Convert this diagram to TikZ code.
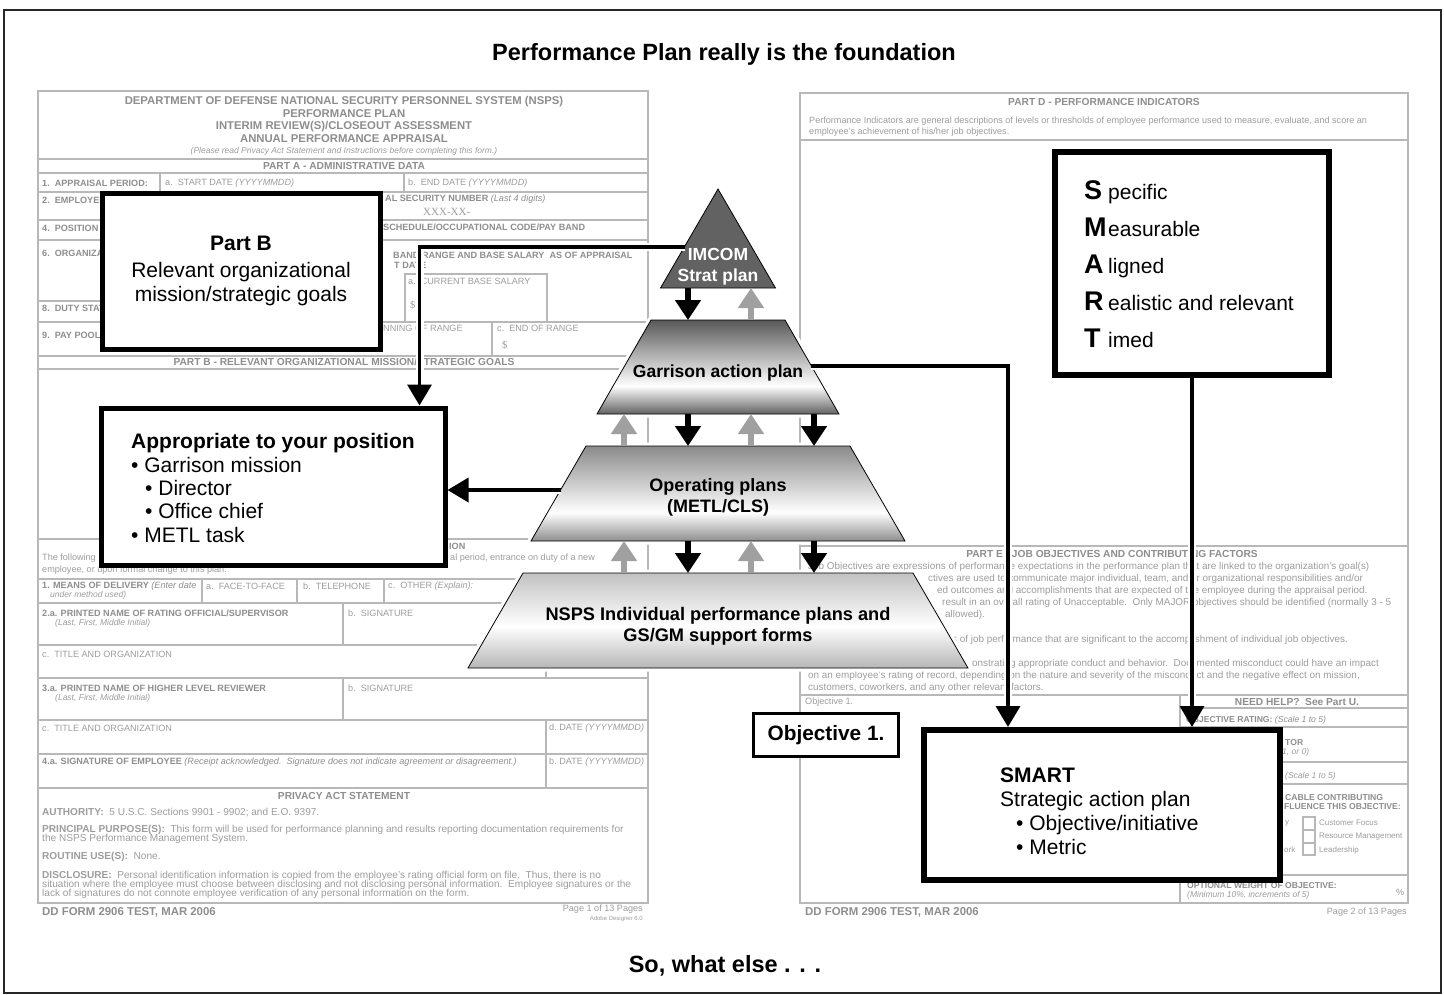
\documentclass[tikz,border=0pt]{standalone}
\usepackage{fontspec}
\setmainfont{Liberation Sans}
\newfontfamily\seriffam{Liberation Serif}
\usetikzlibrary{arrows.meta,calc}

\definecolor{labgrey}{HTML}{8E8E8E}
\definecolor{txtgrey}{HTML}{9D9D9D}
\definecolor{linegrey}{HTML}{B8B8B8}
\definecolor{upgrey}{HTML}{A0A0A0}
\definecolor{trigrey}{HTML}{626262}
\definecolor{aTop}{HTML}{585858}
\definecolor{aBot}{HTML}{626262}
\definecolor{bTop}{HTML}{8A8A8A}
\definecolor{bBot}{HTML}{8E8E8E}
\definecolor{cTop}{HTML}{C2C2C2}
\definecolor{cBot}{HTML}{B6B6B6}

\pgfdeclareverticalshading{lvlA}{100bp}{color(0bp)=(aBot); color(25bp)=(aBot); color(40bp)=(white); color(75bp)=(aTop); color(100bp)=(aTop)}
\pgfdeclareverticalshading{lvlB}{100bp}{color(0bp)=(bBot); color(25bp)=(bBot); color(40bp)=(white); color(75bp)=(bTop); color(100bp)=(bTop)}
\pgfdeclareverticalshading{lvlC}{100bp}{color(0bp)=(cBot); color(25bp)=(cBot); color(47bp)=(white); color(75bp)=(cTop); color(100bp)=(cTop)}

\newcommand\smartlet[1]{\makebox[24pt][l]{\fontsize{27}{27}\selectfont\bfseries #1}}

\begin{document}
\begin{tikzpicture}[x=1pt,y=-1pt,
  fhead/.style={inner sep=0pt,text=labgrey,font=\fontsize{11.3}{12}\selectfont\bfseries},
  fpart/.style={inner sep=0pt,text=labgrey,font=\fontsize{10.2}{11}\selectfont\bfseries},
  flab/.style={anchor=west,inner sep=0pt,text=labgrey,font=\fontsize{9.1}{10}\selectfont\bfseries},
  fitl/.style={anchor=west,inner sep=0pt,text=txtgrey,font=\fontsize{8.5}{9}\selectfont\itshape},
  ftx/.style={anchor=west,inner sep=0pt,text=txtgrey,font=\fontsize{9.1}{10}\selectfont},
  fsm/.style={anchor=west,inner sep=0pt,text=txtgrey,font=\fontsize{8}{9}\selectfont},
  fsmb/.style={anchor=west,inner sep=0pt,text=labgrey,font=\fontsize{8.6}{9}\selectfont\bfseries},
  fpriv/.style={anchor=west,inner sep=0pt,text=txtgrey,font=\fontsize{10.1}{10}\selectfont},
  fpe/.style={anchor=west,inner sep=0pt,text=txtgrey,font=\fontsize{9.9}{10}\selectfont},
  fline/.style={draw=linegrey,line width=1.1pt},
  fborder/.style={draw=linegrey,line width=1.8pt},
  ttl/.style={inner sep=0pt,font=\fontsize{23.5}{26}\selectfont\bfseries},
  bigbox/.style={draw=black,fill=white,line width=5pt,inner sep=0pt},
  pyrtext/.style={inner sep=0pt,align=center,font=\fontsize{17.5}{21}\selectfont\bfseries},
  pyrlayer/.style={draw=black,line width=0.8pt},
  pyrhalo/.style={draw=white,line width=7pt,line join=round},
  blkarrow/.style={draw=black,line width=6.5pt,-{Triangle[width=25pt,length=20pt]}},
  gryarrow/.style={draw=upgrey,line width=5.5pt,-{Triangle[width=25pt,length=20pt]}},
  conn/.style={draw=black,line width=3.6pt,-{Triangle[width=24pt,length=21pt]}},
  halo/.style={draw=white,line width=8pt,shorten >=16pt}
]
\useasboundingbox (0,0) rectangle (1444,994);
\fill[white] (0,0) rectangle (1444,994);
\draw[line width=1.6pt,draw=black!85] (4,10) rectangle (1441,993);

% titles
\node[ttl] (title) at (724,54) {Performance Plan really is the foundation};
\node[ttl] (footer) at (725,966) {So, what else . . .};

% ================= LEFT FORM =================
\draw[fborder] (38,91) rectangle (648,903);
\foreach \yy in {159,173,192,220,240,322,356,369,539,579,603,645,678,720,754,788}
  \draw[fline] (38,\yy) -- (648,\yy);
\draw[fline] (38,301) -- (100,301);
\draw[fline] (160,173) -- (160,192);
\draw[fline] (404,173) -- (404,192);
\draw[fline] (405,274) rectangle (547,322);
\draw[fline] (492,322) -- (492,356);
\draw[fline] (202,579) -- (202,603);
\draw[fline] (297,579) -- (297,603);
\draw[fline] (384,579) -- (384,603);
\draw[fline] (343,603) -- (343,645);
\draw[fline] (343,678) -- (343,720);
\draw[fline] (546,645) -- (546,678);
\draw[fline] (546,720) -- (546,788);

\node[fhead] (lh1) at (344,102) {DEPARTMENT OF DEFENSE NATIONAL SECURITY PERSONNEL SYSTEM (NSPS)};
\node[fhead] (lh2) at (344,114) {PERFORMANCE PLAN};
\node[fhead] (lh3) at (344,127) {INTERIM REVIEW(S)/CLOSEOUT ASSESSMENT};
\node[fhead] (lh4) at (344,139) {ANNUAL PERFORMANCE APPRAISAL};
\node[fitl,anchor=center] (lh5) at (344,151) {(Please read Privacy Act Statement and Instructions before completing this form.)};
\node[fpart] (lpa) at (344,166) {PART A - ADMINISTRATIVE DATA};

\node[flab] (l1) at (42,183) {1.\ \ APPRAISAL PERIOD:};
\node[ftx] (l1a) at (165,183) {a.\ \ START DATE \textit{(YYYYMMDD)}};
\node[ftx] (l1b) at (408,183) {b.\ \ END DATE \textit{(YYYYMMDD)}};
\node[flab] (l2) at (42,200) {2.\ \ EMPLOYEE NAME};
\node[flab] (l3) at (385,199) {AL SECURITY NUMBER \textit{\mdseries(Last 4 digits)}};
\node[anchor=west,inner sep=0pt,text=txtgrey,font=\seriffam\fontsize{11}{12}\selectfont] (l3x) at (423,212) {XXX-XX-};
\node[flab] (l4) at (42,228) {4.\ \ POSITION TITLE};
\node[flab] (l5) at (383,227) {SCHEDULE/OCCUPATIONAL CODE/PAY BAND};
\node[flab] (l6) at (42,253) {6.\ \ ORGANIZATION};
\node[flab] (l7) at (393,255) {BAND RANGE AND BASE SALARY\ \ AS OF APPRAISAL};
\node[flab] (l7b) at (394,265) {T DATE};
\node[ftx] (l7a) at (408,281) {a.\ \ CURRENT BASE SALARY};
\node[ftx,font=\seriffam\fontsize{10.5}{11}\selectfont] (l7d) at (410,305) {\$};
\node[flab] (l8) at (42,308) {8.\ \ DUTY STATION};
\node[flab] (l9) at (42,335) {9.\ \ PAY POOL};
\node[ftx] (l9b) at (383,328) {NNING OF RANGE};
\node[ftx] (l9c) at (497,328) {c.\ \ END OF RANGE};
\node[ftx,font=\seriffam\fontsize{10.5}{11}\selectfont] (l9d) at (502,345) {\$};
\node[fpart] (lpb) at (344,362) {PART B - RELEVANT ORGANIZATIONAL MISSION/STRATEGIC GOALS};

\node[flab] (lc1) at (449,546) {ION};
\node[ftx] (lc2) at (42,558) {The following};
\node[ftx] (lc3) at (450,558) {al period, entrance on duty of a new};
\node[ftx] (lc4) at (42,570) {employee, or upon formal change to this plan.};
\node[flab] (lm1) at (42,586) {1. MEANS OF DELIVERY \textit{\mdseries(Enter date}};
\node[fitl] (lm2) at (50,595) {under method used)};
\node[ftx] (lm3) at (206,586) {a.\ \ FACE-TO-FACE};
\node[ftx] (lm4) at (303,586) {b.\ \ TELEPHONE};
\node[ftx] (lm5) at (388,586) {c.\ \ OTHER \textit{(Explain):}};
\node[flab] (lr1) at (42,613) {2.a. PRINTED NAME OF RATING OFFICIAL/SUPERVISOR};
\node[fitl] (lr2) at (55,623) {(Last, First, Middle Initial)};
\node[ftx] (lr3) at (348,613) {b.\ \ SIGNATURE};
\node[ftx] (lr4) at (42,654) {c.\ \ TITLE AND ORGANIZATION};
\node[flab] (lr5) at (42,688) {3.a. PRINTED NAME OF HIGHER LEVEL REVIEWER};
\node[fitl] (lr6) at (55,698) {(Last, First, Middle Initial)};
\node[ftx] (lr7) at (348,688) {b.\ \ SIGNATURE};
\node[ftx] (lr8) at (42,728) {c.\ \ TITLE AND ORGANIZATION};
\node[ftx] (lr9) at (549,728) {d.\ DATE \textit{(YYYYMMDD)}};
\node[flab] (lr10) at (42,762) {4.a. SIGNATURE OF EMPLOYEE \textit{\mdseries(Receipt acknowledged.\ \ Signature does not indicate agreement or disagreement.)}};
\node[ftx] (lr11) at (549,762) {b.\ DATE \textit{(YYYYMMDD)}};
\node[fpart] (lps) at (344,796) {PRIVACY ACT STATEMENT};
\node[fpriv] (lp1) at (42,812) {\textbf{AUTHORITY:}\ \ 5 U.S.C. Sections 9901 - 9902; and E.O. 9397.};
\node[fpriv] (lp2) at (42,830) {\textbf{PRINCIPAL PURPOSE(S):}\ \ This form will be used for performance planning and results reporting documentation requirements for};
\node[fpriv] (lp3) at (42,839) {the NSPS Performance Management System.};
\node[fpriv] (lp4) at (42,857) {\textbf{ROUTINE USE(S):}\ \ None.};
\node[fpriv] (lp5) at (42,876) {\textbf{DISCLOSURE:}\ \ Personal identification information is copied from the employee's rating official form on file.\ \ Thus, there is no};
\node[fpriv] (lp6) at (42,885) {situation where the employee must choose between disclosing and not disclosing personal information.\ \ Employee signatures or the};
\node[fpriv] (lp7) at (42,894) {lack of signatures do not connote employee verification of any personal information on the form.};
\node[flab,font=\fontsize{11.4}{12}\selectfont\bfseries] (lf1) at (42,912) {DD FORM 2906 TEST, MAR 2006};
\node[ftx,anchor=east] (lf2) at (643,909) {Page 1 of 13 Pages};
\node[ftx,anchor=east,font=\fontsize{6}{6}\selectfont] (lf3) at (643,919) {Adobe Designer 6.0};

% ================= RIGHT FORM =================
\draw[fborder] (800,93) rectangle (1408,903);
\foreach \yy in {140,546,695}
  \draw[fline] (800,\yy) -- (1408,\yy);
\draw[fline] (1180,695) -- (1180,903);
\foreach \yy in {708,727,762,784,875}
  \draw[fline] (1180,\yy) -- (1408,\yy);
\draw[fline] (1303,817) rectangle (1315,830);
\draw[fline] (1303,830) rectangle (1315,843);
\draw[fline] (1303,843) rectangle (1315,855);

\node[fpart] (rpd) at (1104,102) {PART D - PERFORMANCE INDICATORS};
\node[ftx] (rd1) at (809,121) {Performance Indicators are general descriptions of levels or thresholds of employee performance used to measure, evaluate, and score an};
\node[ftx] (rd2) at (809,132) {employee's achievement of his/her job objectives.};
\node[fpart] (rpe) at (1112,554) {PART E - JOB OBJECTIVES AND CONTRIBUTING FACTORS};
\node[fpe] (re1) at (808,567) {Job Objectives are expressions of performance expectations in the performance plan that are linked to the organization's goal(s)};
\node[fpe] (re2) at (928,579) {ctives are used to communicate major individual, team, and/or organizational responsibilities and/or};
\node[fpe] (re3) at (937,591) {ed outcomes and accomplishments that are expected of the employee during the appraisal period.};
\node[fpe] (re4) at (942,603) {result in an overall rating of Unacceptable.\ \ Only MAJOR objectives should be identified (normally 3 - 5};
\node[fpe] (re5) at (945,615) {allowed).};
\node[fpe] (re6) at (952,640) {s of job performance that are significant to the accomplishment of individual job objectives.};
\node[fpe] (re7) at (972,664) {onstrating appropriate conduct and behavior.\ \ Documented misconduct could have an impact};
\node[fpe] (re8) at (808,676) {on an employee's rating of record, depending on the nature and severity of the misconduct and the negative effect on mission,};
\node[fpe] (re9) at (808,688) {customers, coworkers, and any other relevant factors.};
\node[ftx] (ro1) at (805,702) {Objective 1.};
\node[fpart] (rnh) at (1297,702) {NEED HELP?\ \ See Part U.};
\node[fsmb] (rc1) at (1186,720) {OBJECTIVE RATING: \textit{\mdseries(Scale 1 to 5)}};
\node[fsmb] (rc2) at (1285,743) {TOR};
\node[fitl] (rc3) at (1282,752) {1, or 0)};
\node[fitl] (rc4) at (1285,776) {(Scale 1 to 5)};
\node[fsmb] (rc5) at (1285,798) {CABLE CONTRIBUTING};
\node[fsmb] (rc6) at (1284,807) {FLUENCE THIS OBJECTIVE:};
\node[fsm] (rc7) at (1285,823) {y};
\node[fsm] (rc8) at (1319,823) {Customer Focus};
\node[fsm] (rc9) at (1319,837) {Resource Management};
\node[fsm] (rc10) at (1284,850) {ork};
\node[fsm] (rc11) at (1319,850) {Leadership};
\node[fsmb] (rc12) at (1187,886) {OPTIONAL WEIGHT OF OBJECTIVE:};
\node[fitl] (rc13) at (1187,895) {(Minimum 10\%, increments of 5)};
\node[ftx] (rc14) at (1396,892) {\%};
\node[flab,font=\fontsize{11.4}{12}\selectfont\bfseries] (rf1) at (805,912) {DD FORM 2906 TEST, MAR 2006};
\node[ftx,anchor=east] (rf2) at (1407,912) {Page 2 of 13 Pages};

% ================= PYRAMID =================
\draw[pyrhalo] (718,189) -- (775.5,288) -- (660.5,288) -- cycle;
\draw[pyrhalo] (651,320) -- (785,320) -- (839,414) -- (597,414) -- cycle;
\draw[pyrhalo] (586,446) -- (850,446) -- (905,541) -- (531,541) -- cycle;
\draw[pyrhalo] (523,573) -- (913,573) -- (968,668) -- (468,668) -- cycle;
\filldraw[fill=trigrey,draw=black,line width=0.8pt] (718,189) -- (775.5,288) -- (660.5,288) -- cycle;
\shadedraw[shading=lvlA,pyrlayer] (651,320) -- (785,320) -- (839,414) -- (597,414) -- cycle;
\shadedraw[shading=lvlB,pyrlayer] (586,446) -- (850,446) -- (905,541) -- (531,541) -- cycle;
\shadedraw[shading=lvlC,pyrlayer] (523,573) -- (913,573) -- (968,668) -- (468,668) -- cycle;

\coordinate (triB) at (718,288);
\coordinate (gT) at (718,320);
\coordinate (gB) at (718,414);
\coordinate (oT) at (718,446);
\coordinate (oB) at (718,541);
\coordinate (nT) at (718,573);
\coordinate (imcomL) at (685,247);
\coordinate (garR) at (811,366);
\coordinate (opL) at (561,490);

\node[pyrtext,text=white] (imcom) at (718,267) {IMCOM\\Strat plan};
\node[pyrtext] (garrison) at (718,373) {Garrison action plan};
\node[pyrtext,font=\fontsize{18}{21}\selectfont\bfseries] (operating) at (718,497) {Operating plans\\(METL/CLS)};
\node[pyrtext,font=\fontsize{18.2}{21}\selectfont\bfseries] (nsps) at (718,626) {NSPS Individual performance plans and\\GS/GM support forms};

\draw[blkarrow] ($(triB)+(-30,0)$) -- ($(gT)+(-30,0)$);
\draw[gryarrow] ($(gT)+(33,0)$) -- ($(triB)+(33,0)$);
\foreach \dx in {-30,96} {
  \draw[blkarrow] ($(gB)+(\dx,0)$) -- ($(oT)+(\dx,0)$);
  \draw[blkarrow] ($(oB)+(\dx,0)$) -- ($(nT)+(\dx,0)$);
}
\foreach \dx in {-94,33} {
  \draw[gryarrow] ($(oT)+(\dx,0)$) -- ($(gB)+(\dx,0)$);
  \draw[gryarrow] ($(nT)+(\dx,0)$) -- ($(oB)+(\dx,0)$);
}

% ================= BOXES =================
\node[bigbox,minimum width=278pt,minimum height=156pt,align=center,font=\fontsize{21}{24}\selectfont] (partb) at (241,271)
  {\textbf{Part B}\\[3pt]Relevant organizational\\mission/strategic goals};

\node[bigbox,minimum width=344pt,minimum height=157pt] (approp) at (273,486.5) {};
\node[anchor=west,align=left,inner sep=0pt,font=\fontsize{21}{23.4}\selectfont] (approptext) at (131,488)
  {\textbf{Appropriate to your position}\\• Garrison mission\\\hspace*{14pt}• Director\\\hspace*{14pt}• Office chief\\• METL task};

\node[bigbox,line width=6pt,minimum width=274pt,minimum height=223pt] (smartt) at (1192,263.5) {};
\node[anchor=west,align=left,inner sep=0pt,font=\fontsize{21}{37}\selectfont] (smarttext) at (1084,264)
  {\smartlet{S}pecific\\\smartlet{M}easurable\\\smartlet{A}ligned\\\smartlet{R}ealistic and relevant\\\smartlet{T}imed};

\node[bigbox,line width=6pt,minimum width=356pt,minimum height=150pt] (smartb) at (1102,805) {};
\node[anchor=west,align=left,inner sep=0pt,font=\fontsize{21}{24}\selectfont] (smartbtext) at (1000,811)
  {\textbf{SMART}\\Strategic action plan\\\hspace*{16pt}• Objective/initiative\\\hspace*{16pt}• Metric};

\node[draw=black,fill=white,line width=3pt,minimum width=145pt,minimum height=43pt,inner sep=0pt,
  font=\fontsize{20.8}{21}\selectfont\bfseries] (obj) at (826,735) {Objective 1.};

% ================= CONNECTORS =================
\draw[halo] (imcomL) -| ($(approp.north east)+(-28,0)$);
\draw[halo] (garR) -| ($(smartb.north west)+(87,0)$);
\draw[halo] (smartt.south) -- (smartt.south |- smartb.north);
\draw[halo] (opL) -- (opL -| approp.east);
\draw[conn] (imcomL) -| ($(approp.north east)+(-28,0)$);
\draw[conn] (garR) -| ($(smartb.north west)+(87,0)$);
\draw[conn] (smartt.south) -- (smartt.south |- smartb.north);
\draw[conn] (opL) -- (opL -| approp.east);
\end{tikzpicture}
\end{document}
